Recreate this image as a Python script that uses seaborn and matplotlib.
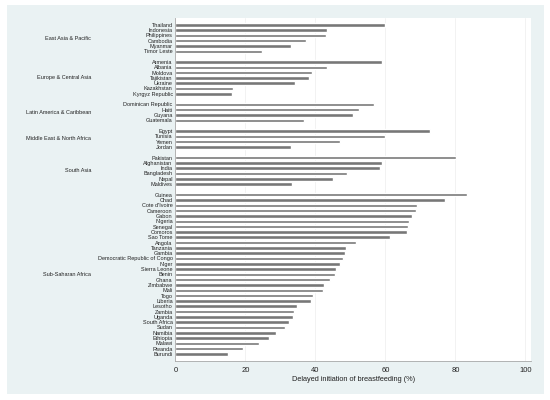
import matplotlib
matplotlib.use("Agg")
import matplotlib.pyplot as plt
import matplotlib.transforms as mtransforms
from matplotlib.patches import Rectangle
import pandas as pd
import seaborn as sns

regions = ["East Asia & Pacific", "Europe & Central Asia", "Latin America & Caribbean",
           "Middle East & North Africa", "South Asia", "Sub-Saharan Africa"]
region_sizes = [6, 7, 4, 4, 6, 31]

countries = [
    "Thailand", "Indonesia", "Philippines", "Cambodia", "Myanmar", "Timor Leste",
    "Armenia", "Albania", "Moldova", "Tajikistan", "Ukraine", "Kazakhstan", "Kyrgyz Republic",
    "Dominican Republic", "Haiti", "Guyana", "Guatemala",
    "Egypt", "Tunisia", "Yemen", "Jordan",
    "Pakistan", "Afghanistan", "India", "Bangladesh", "Nepal", "Maldives",
    "Guinea", "Chad", "Cote d'Ivoire", "Cameroon", "Gabon", "Nigeria", "Senegal", "Comoros",
    "Sao Tome", "Angola", "Tanzania", "Gambia", "Democratic Republic of Congo", "Niger",
    "Sierra Leone", "Benin", "Ghana", "Zimbabwe", "Mali", "Togo", "Liberia", "Lesotho",
    "Zambia", "Uganda", "South Africa", "Sudan", "Namibia", "Ethiopia", "Malawi",
    "Rwanda", "Burundi",
]
delayed = [
    60.0, 43.3, 43.0, 37.3, 33.1, 24.8,
    58.9, 43.3, 39.0, 38.2, 34.1, 16.5, 16.2,
    56.7, 52.5, 50.7, 36.8,
    72.7, 60.0, 47.1, 32.9,
    80.2, 58.9, 58.4, 49.0, 45.0, 33.4,
    83.2, 76.9, 69.1, 68.6, 67.6, 66.6, 66.3, 66.2,
    61.4, 51.5, 48.6, 48.4, 48.0, 47.0,
    46.0, 45.7, 44.2, 42.3, 42.1, 39.3, 38.7, 34.6,
    34.0, 33.7, 32.5, 31.2, 28.7, 26.6, 23.8,
    19.4, 14.9,
]

region_col = [r for r, n in zip(regions, region_sizes) for _ in range(n)]
df = pd.DataFrame({"country": countries, "region": region_col, "delayed": delayed})

# one empty slot between regions
order = []
for i, r in enumerate(regions):
    if i > 0:
        order.append(f"_gap{i}")
    order.extend(df.loc[df["region"] == r, "country"])

sns.set_style("white")
plt.rcParams["font.family"] = ["Liberation Sans", "DejaVu Sans"]

fig = plt.figure(figsize=(5.5, 4), dpi=100)
fig.patch.set_facecolor("white")
fig.patches.append(Rectangle((7 / 550, 6 / 400), 537 / 550, 389 / 400,
                             transform=fig.transFigure, facecolor="#EAF2F3",
                             edgecolor="none", zorder=-10))
ax = fig.add_axes([0.319, 0.097, 0.646, 0.859])

sns.barplot(data=df, x="delayed", y="country", order=order, color="#777777",
            saturation=1, width=0.66, errorbar=None, ax=ax)

ax.set_ylim(len(order) - 1 + 1.35, -1.35)
ax.set_xlim(0, 101.5)
ax.set_xticks([0, 20, 40, 60, 80, 100])
ax.set_yticks(range(len(order)))
ax.set_yticklabels(["" if c.startswith("_gap") else c for c in order])
ax.tick_params(axis="y", length=0, labelsize=4, pad=2, labelcolor="#222222")
ax.tick_params(axis="x", length=2.5, width=0.5, color="#999999", labelsize=5.5,
               pad=2, labelcolor="#222222")
ax.set_ylabel("")
ax.set_xlabel("Delayed initiation of breastfeeding (%)", fontsize=5.3, labelpad=1,
              color="#222222")

ax.xaxis.grid(True, color="#EDEDED", linewidth=0.5)
ax.set_axisbelow(True)
for side in ["top", "right"]:
    ax.spines[side].set_visible(False)
for side in ["left", "bottom"]:
    ax.spines[side].set_color("#A8A8A8")
    ax.spines[side].set_linewidth(0.6)

# region labels to the left of the country names
trans = mtransforms.blended_transform_factory(fig.transFigure, ax.transData)
for r in regions:
    members = set(df.loc[df["region"] == r, "country"])
    pos = [i for i, c in enumerate(order) if c in members]
    ax.text(91 / 550, sum(pos) / len(pos), r, transform=trans, ha="right", va="center",
            fontsize=4, color="#222222")

fig.savefig("out.png", dpi=100)
